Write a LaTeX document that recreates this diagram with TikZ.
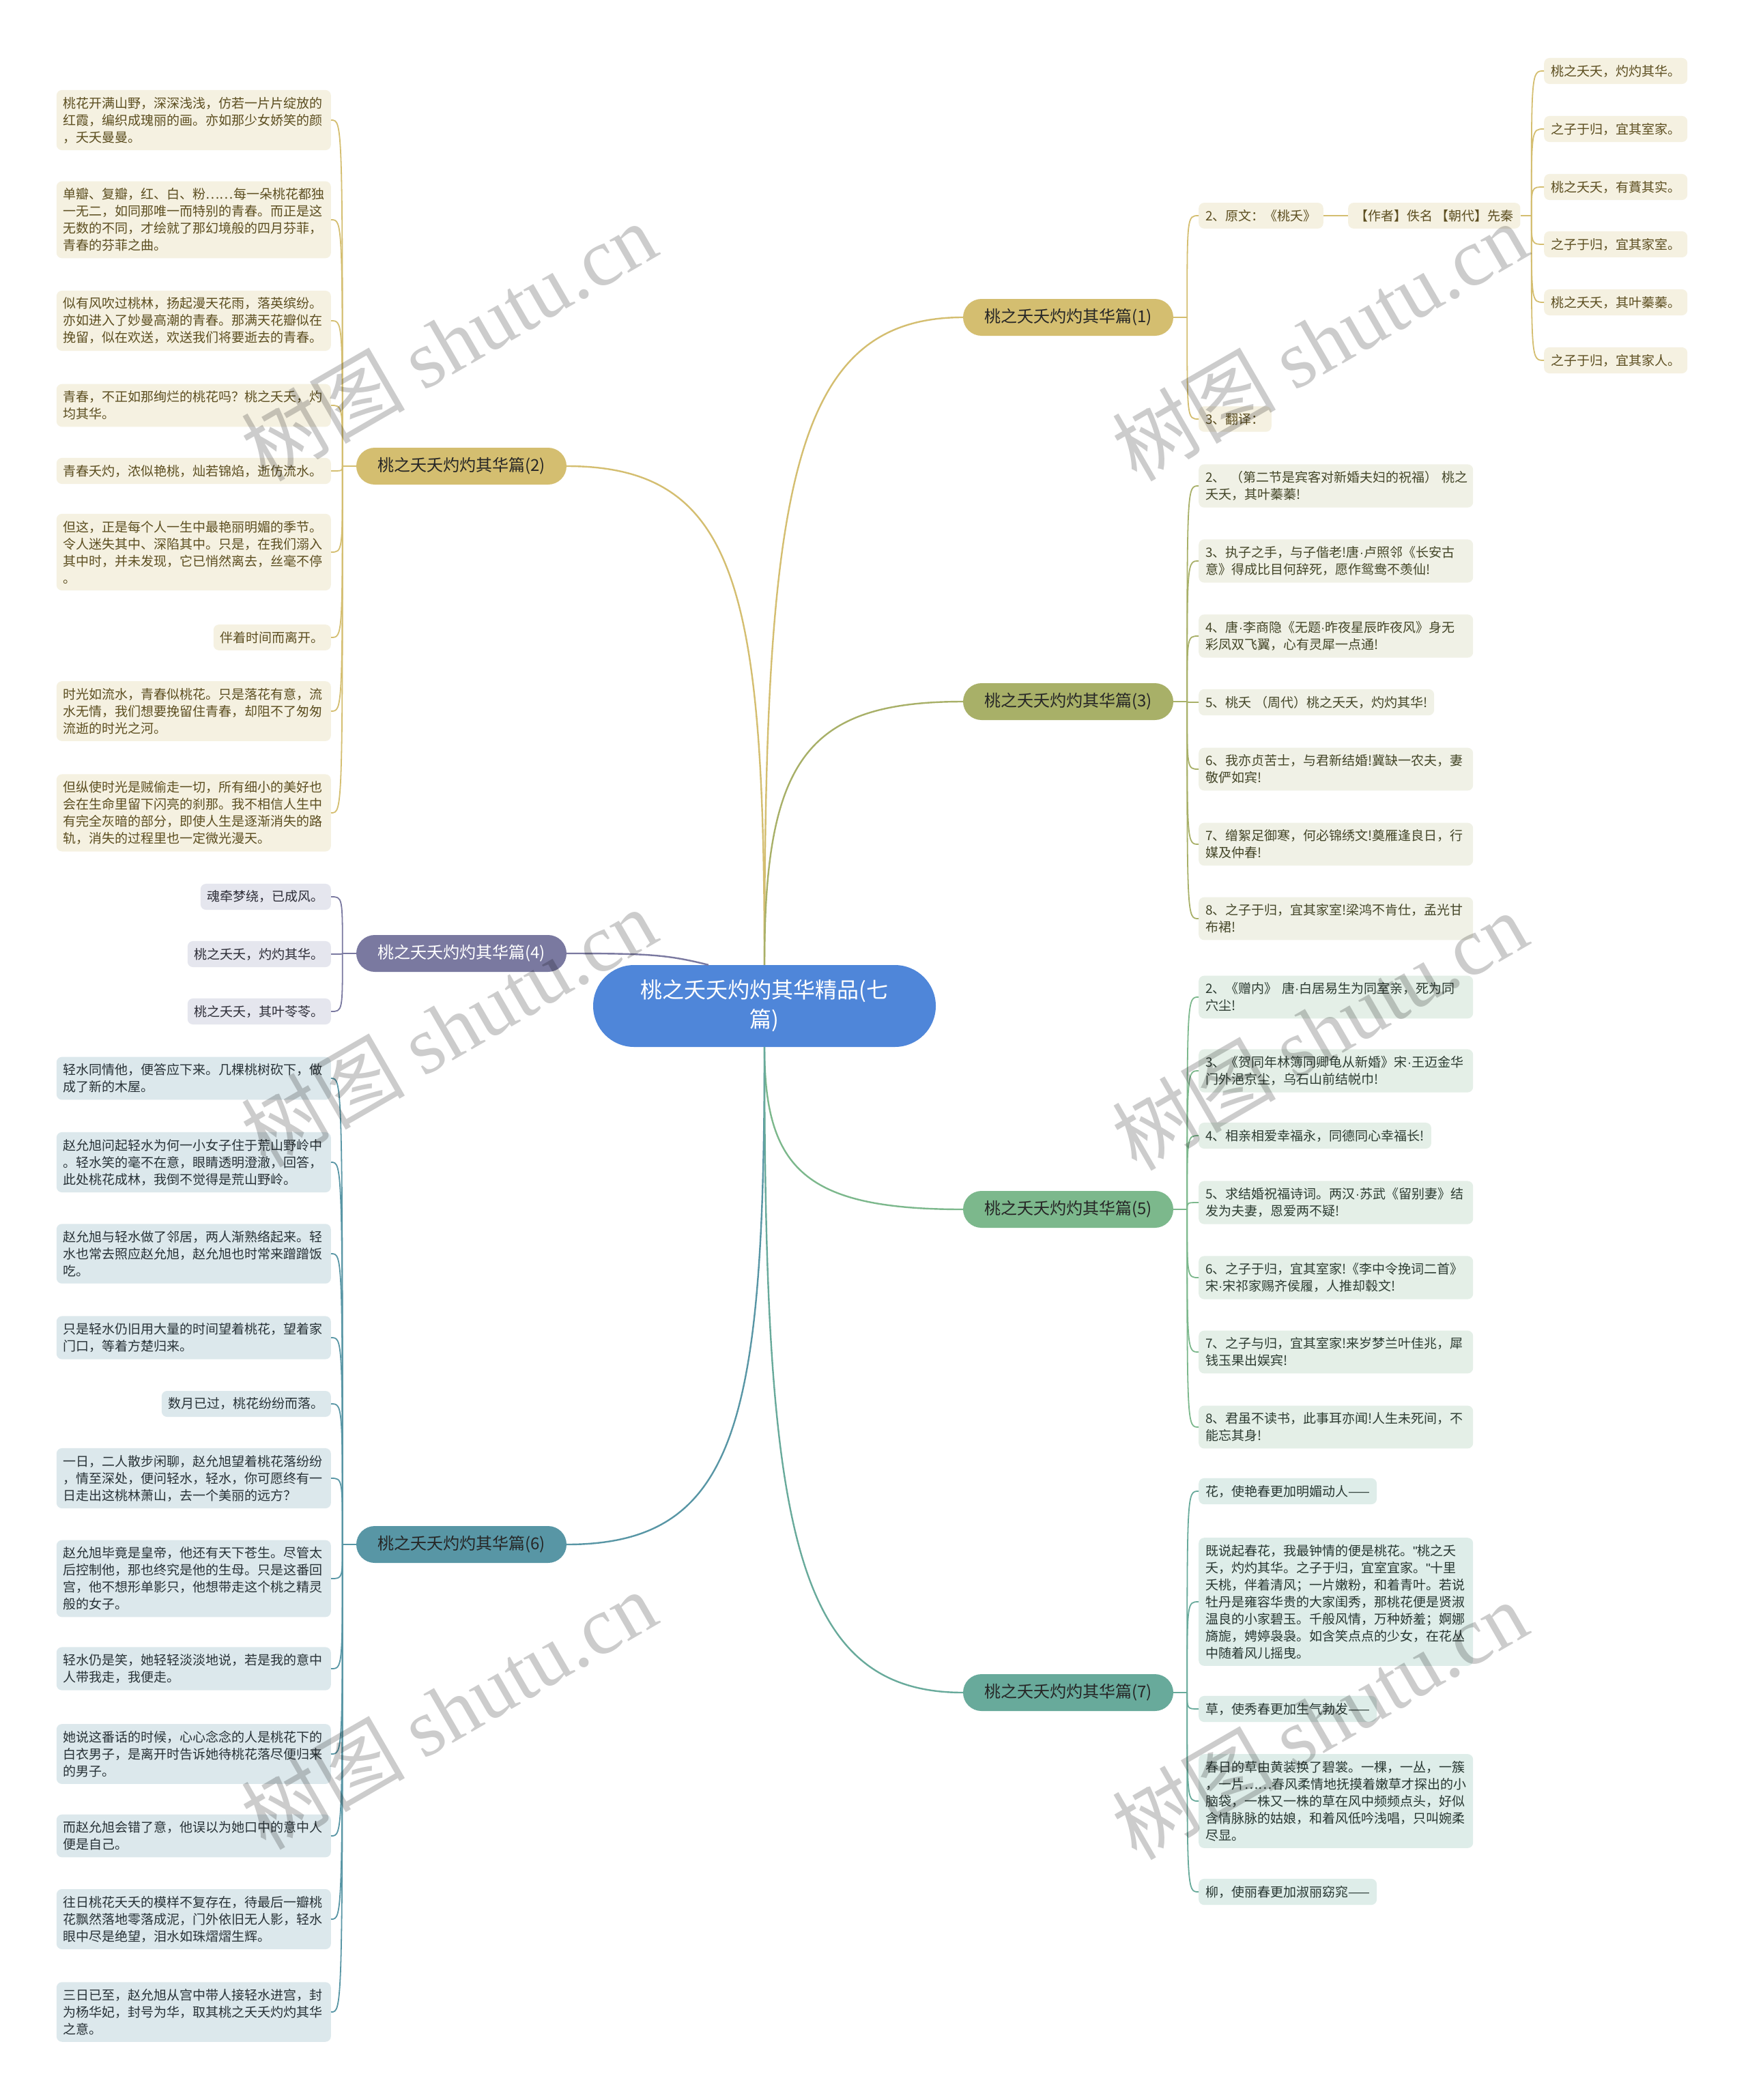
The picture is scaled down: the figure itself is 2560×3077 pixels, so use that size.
\documentclass[tikz,border=0pt]{standalone}
\usepackage{fontspec}
\setmainfont{Noto Sans CJK SC}
\newfontfamily\wmfont{Liberation Serif}
\newfontfamily\latinfont{Liberation Sans}
\newcommand{\md}{{\latinfont ·}}
\newcommand{\qt}{{\latinfont "}}
\usetikzlibrary{calc}
% branch colours: b = bubble, l = leaf fill, t = leaf text
\definecolor{rootblue}{RGB}{79,134,217}
\definecolor{bgold}{RGB}{212,190,112}
\definecolor{lgold}{RGB}{245,241,225}
\definecolor{tgold}{RGB}{92,78,32}
\definecolor{bolive}{RGB}{168,176,104}
\definecolor{lolive}{RGB}{240,241,230}
\definecolor{tolive}{RGB}{68,70,40}
\definecolor{bplum}{RGB}{122,121,160}
\definecolor{lplum}{RGB}{229,230,238}
\definecolor{tplum}{RGB}{45,45,55}
\definecolor{bsage}{RGB}{124,184,140}
\definecolor{lsage}{RGB}{228,239,231}
\definecolor{tsage}{RGB}{45,60,50}
\definecolor{bsea}{RGB}{88,150,165}
\definecolor{lsea}{RGB}{220,232,236}
\definecolor{tsea}{RGB}{40,50,55}
\definecolor{bjade}{RGB}{104,170,155}
\definecolor{ljade}{RGB}{222,237,233}
\definecolor{tjade}{RGB}{40,55,50}

\begin{document}
\begin{tikzpicture}[x=1pt,y=-1pt,
  trunk/.style={fill=rootblue,text=white,rounded corners=60pt,minimum width=502pt,minimum height=120pt,align=center,font=\fontsize{32}{43}\selectfont},
  branch/.style={fill=#1,rounded corners=27pt,minimum width=308pt,minimum height=54pt,text=black!85,font=\fontsize{24}{28}\selectfont},
  leaf/.style 2 args={fill=#1,text=#2,rounded corners=8pt,inner xsep=10pt,inner ysep=10pt,align=left,font=\fontsize{19}{25}\selectfont},
  wide/.style={text width=382pt},
  link/.style={draw=#1,line width=2.4pt},
  twig/.style={draw=#1,line width=1.8pt},
  wmark/.style={text=black,opacity=0.2,rotate=30,font=\fontsize{120}{120}\selectfont}]
  \fill[white] (0,0) rectangle (2560,3077);
  \useasboundingbox (0,0) rectangle (2560,3077);
  % centre + main branches
  \node[trunk] (root) at (1120,1474) {桃之夭夭灼灼其华精品(七\\篇)};
  \node[branch=bgold] (b1) at (1565,465) {桃之夭夭灼灼其华篇(1)};
  \node[branch=bgold] (b2) at (676,683) {桃之夭夭灼灼其华篇(2)};
  \node[branch=bolive] (b3) at (1565,1028) {桃之夭夭灼灼其华篇(3)};
  \node[branch=bplum,text=white] (b4) at (676,1397) {桃之夭夭灼灼其华篇(4)};
  \node[branch=bsage] (b5) at (1565,1772) {桃之夭夭灼灼其华篇(5)};
  \node[branch=bsea] (b6) at (676,2263) {桃之夭夭灼灼其华篇(6)};
  \node[branch=bjade] (b7) at (1565,2480) {桃之夭夭灼灼其华篇(7)};
  \draw[link=bgold] (root.north) .. controls +(0,-700) and +(-250,0) .. (b1.west);
  \draw[link=bgold] (root.north) .. controls +(0,-550) and +(250,0) .. (b2.east);
  \draw[link=bolive] (root.north) .. controls +(0,-300) and +(-230,0) .. (b3.west);
  \draw[link=bplum] (b4.east) .. controls +(120,0) and +(-60,-15) .. ([xshift=-82pt]root.north);
  \draw[link=bsage] (root.south) .. controls +(0,180) and +(-230,0) .. (b5.west);
  \draw[link=bsea] (root.south) .. controls +(0,550) and +(250,0) .. (b6.east);
  \draw[link=bjade] (root.south) .. controls +(0,700) and +(-250,0) .. (b7.west);

  % branch (1)
  \node[leaf={lgold}{tgold},anchor=west] (yw) at (1756,316) {2、原文：《桃夭》};
  \node[leaf={lgold}{tgold},anchor=west] (zz) at (1975,316) {【作者】佚名 【朝代】先秦};
  \node[leaf={lgold}{tgold},anchor=west] (fy) at (1756,614) {3、翻译：};
  \node[leaf={lgold}{tgold},anchor=west] (k1) at (2262,104) {桃之夭夭，灼灼其华。};
  \node[leaf={lgold}{tgold},anchor=west] (k2) at (2262,189) {之子于归，宜其室家。};
  \node[leaf={lgold}{tgold},anchor=west] (k3) at (2262,274) {桃之夭夭，有蕡其实。};
  \node[leaf={lgold}{tgold},anchor=west] (k4) at (2262,358) {之子于归，宜其家室。};
  \node[leaf={lgold}{tgold},anchor=west] (k5) at (2262,443) {桃之夭夭，其叶蓁蓁。};
  \node[leaf={lgold}{tgold},anchor=west] (k6) at (2262,528) {之子于归，宜其家人。};
  \coordinate (s1) at ([xshift=20pt]b1.east);
  \draw[twig=bgold] (b1.east) -- (s1);
  \foreach \n in {yw,fy} \draw[twig=bgold] (s1) .. controls (s1 |- \n.west) .. (\n.west);
  \draw[twig=bgold] (yw) -- (zz);
  \coordinate (s1b) at ([xshift=16pt]zz.east);
  \draw[twig=bgold] (zz.east) -- (s1b);
  \foreach \n in {k1,k2,k3,k4,k5,k6} \draw[twig=bgold] (s1b) .. controls (s1b |- \n.west) .. (\n.west);

  % branch (2)
  \node[leaf={lgold}{tgold},wide,anchor=east] (p1) at (485,176) {桃花开满山野，深深浅浅，仿若一片片绽放的\\红霞，编织成瑰丽的画。亦如那少女娇笑的颜\\，夭夭曼曼。};
  \node[leaf={lgold}{tgold},wide,anchor=east] (p2) at (485,322) {单瓣、复瓣，红、白、粉……每一朵桃花都独\\一无二，如同那唯一而特别的青春。而正是这\\无数的不同，才绘就了那幻境般的四月芬菲，\\青春的芬菲之曲。};
  \node[leaf={lgold}{tgold},wide,anchor=east] (p3) at (485,470) {似有风吹过桃林，扬起漫天花雨，落英缤纷。\\亦如进入了妙曼高潮的青春。那满天花瓣似在\\挽留，似在欢送，欢送我们将要逝去的青春。};
  \node[leaf={lgold}{tgold},wide,anchor=east] (p4) at (485,594) {青春，不正如那绚烂的桃花吗？桃之夭夭，灼\\均其华。};
  \node[leaf={lgold}{tgold},wide,anchor=east] (p5) at (485,690) {青春夭灼，浓似艳桃，灿若锦焰，逝仿流水。};
  \node[leaf={lgold}{tgold},wide,anchor=east] (p6) at (485,809) {但这，正是每个人一生中最艳丽明媚的季节。\\令人迷失其中、深陷其中。只是，在我们溺入\\其中时，并未发现，它已悄然离去，丝毫不停\\。};
  \node[leaf={lgold}{tgold},anchor=east] (p7) at (485,934) {伴着时间而离开。};
  \node[leaf={lgold}{tgold},wide,anchor=east] (p8) at (485,1042) {时光如流水，青春似桃花。只是落花有意，流\\水无情，我们想要挽留住青春，却阻不了匆匆\\流逝的时光之河。};
  \node[leaf={lgold}{tgold},wide,anchor=east] (p9) at (485,1191) {但纵使时光是贼偷走一切，所有细小的美好也\\会在生命里留下闪亮的刹那。我不相信人生中\\有完全灰暗的部分，即使人生是逐渐消失的路\\轨，消失的过程里也一定微光漫天。};
  \coordinate (s2) at ([xshift=-20pt]b2.west);
  \draw[twig=bgold] (b2.west) -- (s2);
  \foreach \n in {p1,p2,p3,p4,p5,p6,p7,p8,p9} \draw[twig=bgold] (s2) .. controls (s2 |- \n.east) .. (\n.east);

  % branch (3)
  \node[leaf={lolive}{tolive},wide,anchor=west] (u1) at (1756,712) {2、~（第二节是宾客对新婚夫妇的祝福）~桃之\\夭夭，其叶蓁蓁!};
  \node[leaf={lolive}{tolive},wide,anchor=west] (u2) at (1756,822) {3、执子之手，与子偕老!唐\md 卢照邻《长安古\\意》得成比目何辞死，愿作鸳鸯不羡仙!};
  \node[leaf={lolive}{tolive},wide,anchor=west] (u3) at (1756,932) {4、唐\md 李商隐《无题\md 昨夜星辰昨夜风》身无\\彩凤双飞翼，心有灵犀一点通!};
  \node[leaf={lolive}{tolive},anchor=west] (u4) at (1756,1029) {5、桃夭~（周代）桃之夭夭，灼灼其华!};
  \node[leaf={lolive}{tolive},wide,anchor=west] (u5) at (1756,1127) {6、我亦贞苦士，与君新结婚!冀缺一农夫，妻\\敬俨如宾!};
  \node[leaf={lolive}{tolive},wide,anchor=west] (u6) at (1756,1237) {7、缯絮足御寒，何必锦绣文!奠雁逢良日，行\\媒及仲春!};
  \node[leaf={lolive}{tolive},wide,anchor=west] (u7) at (1756,1346) {8、之子于归，宜其家室!梁鸿不肯仕，孟光甘\\布裙!};
  \coordinate (s3) at ([xshift=20pt]b3.east);
  \draw[twig=bolive] (b3.east) -- (s3);
  \foreach \n in {u1,u2,u3,u4,u5,u6,u7} \draw[twig=bolive] (s3) .. controls (s3 |- \n.west) .. (\n.west);

  % branch (4)
  \node[leaf={lplum}{tplum},anchor=east] (q1) at (485,1314) {魂牵梦绕，已成风。};
  \node[leaf={lplum}{tplum},anchor=east] (q2) at (485,1398) {桃之夭夭，灼灼其华。};
  \node[leaf={lplum}{tplum},anchor=east] (q3) at (485,1482) {桃之夭夭，其叶苓苓。};
  \coordinate (s4) at ([xshift=-20pt]b4.west);
  \draw[twig=bplum] (b4.west) -- (s4);
  \foreach \n in {q1,q2,q3} \draw[twig=bplum] (s4) .. controls (s4 |- \n.east) .. (\n.east);

  % branch (5)
  \node[leaf={lsage}{tsage},wide,anchor=west] (v1) at (1756,1461) {2、《赠内》~唐\md 白居易生为同室亲，死为同\\穴尘!};
  \node[leaf={lsage}{tsage},wide,anchor=west] (v2) at (1756,1569) {3、《贺同年林簿同卿龟从新婚》宋\md 王迈金华\\门外浥京尘，乌石山前结帨巾!};
  \node[leaf={lsage}{tsage},anchor=west] (v3) at (1756,1664) {4、相亲相爱幸福永，同德同心幸福长!};
  \node[leaf={lsage}{tsage},wide,anchor=west] (v4) at (1756,1762) {5、求结婚祝福诗词。两汉\md 苏武《留别妻》结\\发为夫妻，恩爱两不疑!};
  \node[leaf={lsage}{tsage},wide,anchor=west] (v5) at (1756,1872) {6、之子于归，宜其室家!《李中令挽词二首》\\宋\md 宋祁家赐齐侯履，人推却毂文!};
  \node[leaf={lsage}{tsage},wide,anchor=west] (v6) at (1756,1981) {7、之子与归，宜其室家!来岁梦兰叶佳兆，犀\\钱玉果出娱宾!};
  \node[leaf={lsage}{tsage},wide,anchor=west] (v7) at (1756,2091) {8、君虽不读书，此事耳亦闻!人生未死间，不\\能忘其身!};
  \coordinate (s5) at ([xshift=20pt]b5.east);
  \draw[twig=bsage] (b5.east) -- (s5);
  \foreach \n in {v1,v2,v3,v4,v5,v6,v7} \draw[twig=bsage] (s5) .. controls (s5 |- \n.west) .. (\n.west);

  % branch (6)
  \node[leaf={lsea}{tsea},wide,anchor=east] (r1) at (485,1580) {轻水同情他，便答应下来。几棵桃树砍下，做\\成了新的木屋。};
  \node[leaf={lsea}{tsea},wide,anchor=east] (r2) at (485,1703) {赵允旭问起轻水为何一小女子住于荒山野岭中\\。轻水笑的毫不在意，眼睛透明澄澈，回答，\\此处桃花成林，我倒不觉得是荒山野岭。};
  \node[leaf={lsea}{tsea},wide,anchor=east] (r3) at (485,1837) {赵允旭与轻水做了邻居，两人渐熟络起来。轻\\水也常去照应赵允旭，赵允旭也时常来蹭蹭饭\\吃。};
  \node[leaf={lsea}{tsea},wide,anchor=east] (r4) at (485,1960) {只是轻水仍旧用大量的时间望着桃花，望着家\\门口，等着方楚归来。};
  \node[leaf={lsea}{tsea},anchor=east] (r5) at (485,2057) {数月已过，桃花纷纷而落。};
  \node[leaf={lsea}{tsea},wide,anchor=east] (r6) at (485,2166) {一日，二人散步闲聊，赵允旭望着桃花落纷纷\\，情至深处，便问轻水，轻水，你可愿终有一\\日走出这桃林萧山，去一个美丽的远方？};
  \node[leaf={lsea}{tsea},wide,anchor=east] (r7) at (485,2313) {赵允旭毕竟是皇帝，他还有天下苍生。尽管太\\后控制他，那也终究是他的生母。只是这番回\\宫，他不想形单影只，他想带走这个桃之精灵\\般的女子。};
  \node[leaf={lsea}{tsea},wide,anchor=east] (r8) at (485,2445) {轻水仍是笑，她轻轻淡淡地说，若是我的意中\\人带我走，我便走。};
  \node[leaf={lsea}{tsea},wide,anchor=east] (r9) at (485,2570) {她说这番话的时候，心心念念的人是桃花下的\\白衣男子，是离开时告诉她待桃花落尽便归来\\的男子。};
  \node[leaf={lsea}{tsea},wide,anchor=east] (r10) at (485,2690) {而赵允旭会错了意，他误以为她口中的意中人\\便是自己。};
  \node[leaf={lsea}{tsea},wide,anchor=east] (r11) at (485,2812) {往日桃花夭夭的模样不复存在，待最后一瓣桃\\花飘然落地零落成泥，门外依旧无人影，轻水\\眼中尽是绝望，泪水如珠熠熠生辉。};
  \node[leaf={lsea}{tsea},wide,anchor=east] (r12) at (485,2948) {三日已至，赵允旭从宫中带人接轻水进宫，封\\为杨华妃，封号为华，取其桃之夭夭灼灼其华\\之意。};
  \coordinate (s6) at ([xshift=-20pt]b6.west);
  \draw[twig=bsea] (b6.west) -- (s6);
  \foreach \n in {r1,r2,r3,r4,r5,r6,r7,r8,r9,r10,r11,r12} \draw[twig=bsea] (s6) .. controls (s6 |- \n.east) .. (\n.east);

  % branch (7)
  \node[leaf={ljade}{tjade},anchor=west] (w1) at (1756,2185) {花，使艳春更加明媚动人——};
  \node[leaf={ljade}{tjade},wide,anchor=west] (w2) at (1756,2347) {既说起春花，我最钟情的便是桃花。\qt 桃之夭\\夭，灼灼其华。之子于归，宜室宜家。\qt 十里\\夭桃，伴着清风；一片嫩粉，和着青叶。若说\\牡丹是雍容华贵的大家闺秀，那桃花便是贤淑\\温良的小家碧玉。千般风情，万种娇羞；婀娜\\旖旎，娉婷袅袅。如含笑点点的少女，在花丛\\中随着风儿摇曳。};
  \node[leaf={ljade}{tjade},anchor=west] (w3) at (1756,2504) {草，使秀春更加生气勃发——};
  \node[leaf={ljade}{tjade},wide,anchor=west] (w4) at (1756,2639) {春日的草由黄装换了碧裳。一棵，一丛，一簇\\，一片……春风柔情地抚摸着嫩草才探出的小\\脑袋，一株又一株的草在风中频频点头，好似\\含情脉脉的姑娘，和着风低吟浅唱，只叫婉柔\\尽显。};
  \node[leaf={ljade}{tjade},anchor=west] (w5) at (1756,2772) {柳，使丽春更加淑丽窈窕——};
  \coordinate (s7) at ([xshift=20pt]b7.east);
  \draw[twig=bjade] (b7.east) -- (s7);
  \foreach \n in {w1,w2,w3,w4,w5} \draw[twig=bjade] (s7) .. controls (s7 |- \n.west) .. (\n.west);

  % watermark
  \foreach \wx/\wy in {657/500,1933/500,657/1505,1933/1510,657/2505,1933/2520}
    \node[wmark] (wm) at (\wx,\wy) {树图 {\wmfont shutu.cn}};
\end{tikzpicture}
\end{document}
